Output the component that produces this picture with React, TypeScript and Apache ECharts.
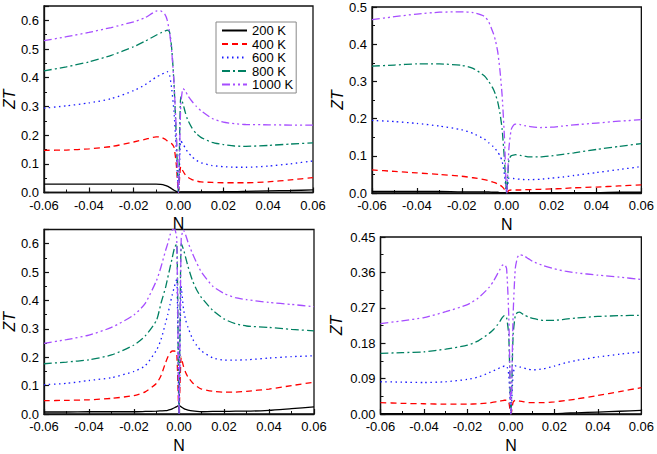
import React, { useEffect, useRef } from "react";
import * as echarts from "echarts";

const seriesNames = ["200 K", "400 K", "600 K", "800 K", "1000 K"];
const xTicks = [-0.06, -0.04, -0.02, 0, 0.02, 0.04, 0.06];

// shared N grid (denser near zero)
const nGrid = [-0.06, -0.05, -0.04, -0.03, -0.02, -0.015, -0.01, -0.008, -0.006, -0.005, -0.004, -0.003, -0.002, -0.001, 0,
  0.001, 0.002, 0.003, 0.004, 0.006, 0.008, 0.01, 0.015, 0.02, 0.025, 0.03, 0.04, 0.05, 0.06];

// Panel (a) top-left
const a200 = [0.029, 0.029, 0.029, 0.029, 0.029, 0.029, 0.029, 0.028, 0.025, 0.022, 0.018, 0.013, 0.008, 0.004, 0,
  0.002, 0.002, 0.002, 0.002, 0.002, 0.002, 0.002, 0.002, 0.003, 0.003, 0.004, 0.006, 0.007, 0.009];
const a400 = [0.147, 0.148, 0.152, 0.16, 0.176, 0.185, 0.194, 0.193, 0.186, 0.18, 0.175, 0.17, 0.158, 0.1, 0,
  0.09, 0.075, 0.062, 0.054, 0.045, 0.04, 0.037, 0.035, 0.034, 0.034, 0.034, 0.037, 0.044, 0.052];
const a600 = [0.294, 0.302, 0.312, 0.327, 0.355, 0.375, 0.402, 0.41, 0.418, 0.421, 0.41, 0.36, 0.28, 0.15, 0,
  0.18, 0.17, 0.155, 0.143, 0.125, 0.112, 0.104, 0.094, 0.09, 0.088, 0.088, 0.092, 0.1, 0.11];
const a800 = [0.424, 0.438, 0.455, 0.478, 0.508, 0.527, 0.548, 0.556, 0.563, 0.566, 0.56, 0.5, 0.38, 0.2, 0,
  0.333, 0.31, 0.28, 0.255, 0.225, 0.205, 0.192, 0.175, 0.167, 0.162, 0.161, 0.164, 0.169, 0.173];
const a1000 = [0.529, 0.543, 0.558, 0.575, 0.595, 0.609, 0.632, 0.633, 0.62, 0.6, 0.56, 0.49, 0.38, 0.22, 0,
  0.3, 0.362, 0.355, 0.34, 0.318, 0.3, 0.285, 0.258, 0.245, 0.24, 0.237, 0.236, 0.235, 0.235];

// Panel (b) top-right
const b200 = [0.004, 0.004, 0.004, 0.004, 0.003, 0.003, 0.003, 0.003, 0.002, 0.002, 0.002, 0.001, 0.001, 0.001, 0,
  0.001, 0.001, 0.001, 0.001, 0.001, 0.001, 0.001, 0.001, 0.001, 0.001, 0.001, 0.001, 0.002, 0.002];
const b400 = [0.062, 0.058, 0.054, 0.05, 0.045, 0.041, 0.036, 0.033, 0.029, 0.027, 0.024, 0.021, 0.017, 0.01, 0,
  0.007, 0.008, 0.008, 0.008, 0.008, 0.009, 0.009, 0.01, 0.011, 0.012, 0.014, 0.016, 0.019, 0.022];
const b600 = [0.195, 0.192, 0.187, 0.18, 0.17, 0.16, 0.145, 0.135, 0.125, 0.118, 0.11, 0.1, 0.085, 0.05, 0,
  0.04, 0.04, 0.039, 0.038, 0.037, 0.036, 0.036, 0.037, 0.04, 0.043, 0.047, 0.055, 0.063, 0.071];
const b800 = [0.341, 0.344, 0.347, 0.347, 0.343, 0.335, 0.315, 0.3, 0.28, 0.265, 0.245, 0.215, 0.17, 0.09, 0,
  0.09, 0.1, 0.102, 0.103, 0.101, 0.099, 0.097, 0.097, 0.1, 0.104, 0.108, 0.117, 0.125, 0.133];
const b1000 = [0.466, 0.474, 0.481, 0.486, 0.487, 0.485, 0.475, 0.46, 0.43, 0.41, 0.38, 0.33, 0.26, 0.15, 0,
  0.12, 0.17, 0.182, 0.185, 0.184, 0.181, 0.179, 0.176, 0.177, 0.18, 0.183, 0.188, 0.193, 0.197];

// Panel (c) bottom-left
const c200 = [0.007, 0.007, 0.008, 0.008, 0.008, 0.009, 0.01, 0.011, 0.012, 0.013, 0.015, 0.018, 0.022, 0.026, 0.03,
  0.025, 0.02, 0.016, 0.014, 0.011, 0.009, 0.008, 0.009, 0.009, 0.01, 0.01, 0.013, 0.019, 0.025];
const c400 = [0.047, 0.048, 0.05, 0.055, 0.065, 0.078, 0.108, 0.135, 0.18, 0.2, 0.215, 0.222, 0.222, 0.215, 0,
  0.2, 0.168, 0.145, 0.13, 0.11, 0.097, 0.088, 0.08, 0.077, 0.077, 0.08, 0.088, 0.1, 0.112];
const c600 = [0.103, 0.108, 0.118, 0.128, 0.15, 0.17, 0.225, 0.262, 0.32, 0.35, 0.385, 0.42, 0.45, 0.475, 0,
  0.45, 0.37, 0.33, 0.305, 0.265, 0.24, 0.222, 0.198, 0.19, 0.19, 0.191, 0.197, 0.202, 0.205];
const c800 = [0.177, 0.183, 0.191, 0.208, 0.243, 0.275, 0.33, 0.39, 0.445, 0.48, 0.515, 0.55, 0.585, 0.6, 0,
  0.6, 0.58, 0.55, 0.52, 0.47, 0.435, 0.41, 0.365, 0.335, 0.318, 0.31, 0.305, 0.298, 0.293];
const c1000 = [0.249, 0.262, 0.278, 0.305, 0.349, 0.39, 0.47, 0.518, 0.575, 0.6, 0.63, 0.648, 0.652, 0.62, 0,
  0.62, 0.648, 0.63, 0.605, 0.565, 0.53, 0.5, 0.45, 0.425, 0.41, 0.403, 0.393, 0.386, 0.378];

// Panel (d) bottom-right
const d200 = [0.001, 0.001, 0.001, 0.001, 0.001, 0.001, 0.001, 0.001, 0.001, 0.001, 0.001, 0.001, 0.001, 0.001, 0,
  0.001, 0.001, 0.001, 0.001, 0.001, 0.001, 0.001, 0.001, 0.001, 0.002, 0.003, 0.005, 0.007, 0.009];
const d400 = [0.029, 0.027, 0.026, 0.025, 0.025, 0.026, 0.028, 0.03, 0.032, 0.033, 0.034, 0.035, 0.035, 0.03, 0,
  0.03, 0.035, 0.034, 0.033, 0.031, 0.029, 0.029, 0.029, 0.031, 0.034, 0.038, 0.047, 0.057, 0.067];
const d600 = [0.082, 0.081, 0.08, 0.082, 0.088, 0.094, 0.105, 0.11, 0.115, 0.118, 0.12, 0.122, 0.122, 0.1, 0,
  0.1, 0.122, 0.122, 0.12, 0.117, 0.114, 0.112, 0.115, 0.122, 0.13, 0.136, 0.145, 0.152, 0.158];
const d800 = [0.154, 0.156, 0.158, 0.165, 0.175, 0.186, 0.205, 0.215, 0.228, 0.236, 0.245, 0.25, 0.245, 0.2, 0,
  0.2, 0.25, 0.258, 0.259, 0.252, 0.247, 0.243, 0.238, 0.238, 0.241, 0.244, 0.248, 0.25, 0.251];
const d1000 = [0.23, 0.237, 0.245, 0.26, 0.278, 0.295, 0.322, 0.338, 0.358, 0.368, 0.378, 0.38, 0.37, 0.25, 0,
  0.25, 0.37, 0.398, 0.405, 0.402, 0.395, 0.388, 0.377, 0.369, 0.363, 0.359, 0.353, 0.348, 0.342];

const panelSeries = [
  [a200, a400, a600, a800, a1000],
  [b200, b400, b600, b800, b1000],
  [c200, c400, c600, c800, c1000],
  [d200, d400, d600, d800, d1000],
];
const yMax = [0.65, 0.5, 0.65, 0.45];
const yInterval = [0.1, 0.1, 0.1, 0.09];
const yDecimals = [1, 1, 1, 2];

const colors = ["#000000", "#ff0000", "#1a1aff", "#008062", "#a64dff"];
const dashes: any[] = ["solid", [6, 4], [1.5, 3.5], [8, 3, 2, 3], [8, 3, 2, 3, 2, 3]];

const grids = [
  { left: 43, top: 6, width: 270, height: 186.5 },
  { left: 372, top: 7, width: 272, height: 186 },
  { left: 43, top: 229.5, width: 271, height: 185 },
  { left: 380.5, top: 237, width: 263.5, height: 180 },
];

const FONT = "'Liberation Sans', Arial, Helvetica, sans-serif";

export default function App() {
  const ref = useRef<HTMLDivElement>(null);
  useEffect(() => {
    if (!ref.current) return;
    const chart = echarts.init(ref.current, undefined, { renderer: "svg" });
    const axisColor = "#111";
    const xAxis = grids.map((_, i) => ({
      type: "value",
      gridIndex: i,
      min: -0.06,
      max: 0.06,
      interval: 0.02,
      name: "N",
      nameLocation: "middle",
      nameGap: 23,
      nameTextStyle: { fontFamily: FONT, fontSize: 16, color: "#000" },
      axisLine: { show: true, onZero: false, lineStyle: { color: axisColor, width: 1.3 } },
      axisTick: { show: true, inside: true, length: 5, lineStyle: { color: axisColor, width: 1.2 } },
      minorTick: { show: true, splitNumber: 2, length: 3, lineStyle: { color: axisColor, width: 1 } },
      splitLine: { show: false },
      minorSplitLine: { show: false },
      axisLabel: {
        fontFamily: FONT,
        fontSize: 13,
        color: "#000",
        margin: 6,
        formatter: (v: number) => (Math.abs(v) < 1e-9 ? "0.00" : v.toFixed(2)),
      },
    }));
    const yAxis = grids.map((_, i) => ({
      type: "value",
      gridIndex: i,
      min: 0,
      max: yMax[i],
      interval: yInterval[i],
      name: "ZT",
      nameLocation: "middle",
      nameRotate: 90,
      nameGap: i === 3 ? 36 : 26,
      nameTextStyle: { fontFamily: FONT, fontSize: 16, fontStyle: "italic", color: "#000" },
      axisLine: { show: true, onZero: false, lineStyle: { color: axisColor, width: 1.3 } },
      axisTick: { show: true, inside: true, length: 5, lineStyle: { color: axisColor, width: 1.2 } },
      minorTick: { show: true, splitNumber: 2, length: 3, lineStyle: { color: axisColor, width: 1 } },
      splitLine: { show: false },
      minorSplitLine: { show: false },
      axisLabel: {
        fontFamily: FONT,
        fontSize: 13,
        color: "#000",
        margin: 5,
        formatter: (v: number) => {
          const k = v / yInterval[i];
          if (Math.abs(k - Math.round(k)) > 1e-6) return "";
          return v.toFixed(yDecimals[i]);
        },
      },
    }));
    const series: any[] = [];
    panelSeries.forEach((list, p) => {
      list.forEach((ys, t) => {
        series.push({
          type: "line",
          name: seriesNames[t],
          xAxisIndex: p,
          yAxisIndex: p,
          data: nGrid.map((x, k) => [x, ys[k]]),
          symbol: "none",
          showSymbol: false,
          smooth: 0.2,
          clip: true,
          lineStyle: { color: colors[t], width: 1.3, type: dashes[t] },
          itemStyle: { color: colors[t] },
          emphasis: { disabled: true },
        });
      });
    });
    chart.setOption({
      animation: false,
      backgroundColor: "#fff",
      grid: grids.map((g) => ({ ...g, show: true, borderColor: axisColor, borderWidth: 1.3, backgroundColor: "transparent" })),
      xAxis,
      yAxis,
      legend: {
        data: seriesNames,
        orient: "vertical",
        left: 216,
        top: 22,
        itemWidth: 25,
        itemHeight: 10,
        itemGap: 0.5,
        padding: [2, 3, 2, 5],
        borderColor: "#888",
        borderWidth: 1,
        backgroundColor: "#fff",
        itemStyle: { opacity: 0, color: "transparent", borderWidth: 0 },
        textStyle: { fontFamily: FONT, fontSize: 13, color: "#000", lineHeight: 12.6 },
      },
      series,
    });
    return () => chart.dispose();
  }, []);
  return (
    <div
      ref={ref}
      style={{ position: "fixed", left: 0, top: 0, width: 657, height: 454, background: "#fff" }}
    />
  );
}
